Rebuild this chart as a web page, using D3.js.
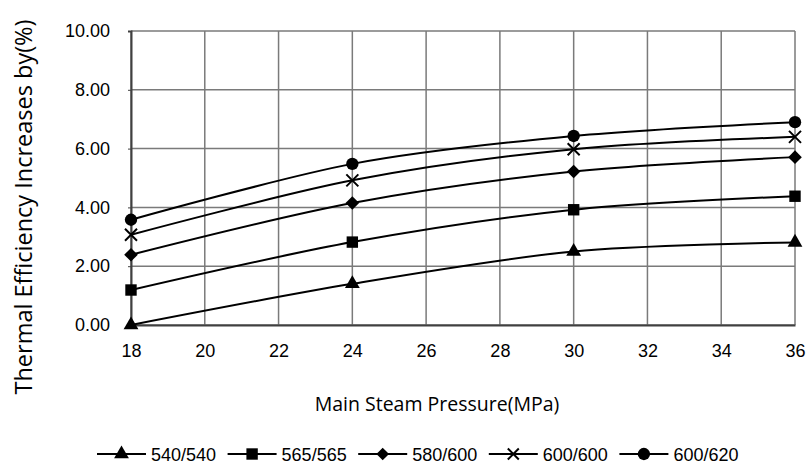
<!DOCTYPE html>
<html>
<head>
<meta charset="utf-8">
<script src="https://cdn.jsdelivr.net/npm/d3@7"></script>
<style>
body{margin:0;background:#fff;}
.tick text{font-family:"Liberation Sans",Arial,sans-serif;font-size:18px;fill:#000;}
.title{font-family:"Open Sans",sans-serif;font-size:19.5px;fill:#000;}
.yTitle{font-size:23.5px;}
.legendText{font-family:"Liberation Sans",Arial,sans-serif;font-size:18px;fill:#000;}
</style>
</head>
<body>
<script>
var pressures = [18,24,30,36];
var seriesNames = ['540/540','565/565','580/600','600/600','600/620'];
var seriesSymbols = ['triangle','square','diamond','cross','circle'];
var v540 = [0.00,1.40,2.50,2.81];
var v565 = [1.19,2.82,3.92,4.38];
var v580 = [2.39,4.15,5.22,5.71];
var v600 = [3.07,4.92,5.98,6.40];
var v620 = [3.58,5.48,6.43,6.90];
var seriesValues = [v540,v565,v580,v600,v620];
var xTicks = [18,20,22,24,26,28,30,32,34,36];
var yTicks = [0,2,4,6,8,10];

var W = 808, H = 468;
var plotLeft = 131, plotRight = 795, plotTop = 31, plotBottom = 325;

var svg = d3.select('body').append('svg').attr('width',W).attr('height',H);

var x = d3.scaleLinear().domain([18,36]).range([plotLeft,plotRight]);
var y = d3.scaleLinear().domain([0,10]).range([plotBottom,plotTop]);

//Grid
var grid = svg.append('g');
grid.selectAll('.hg').data(yTicks).enter().append('line')
	.attr('x1',plotLeft).attr('x2',plotRight)
	.attr('y1',function(d){return y(d);}).attr('y2',function(d){return y(d);})
	.attr('stroke','#7a7a7a').attr('stroke-width',1.5);
grid.selectAll('.vg').data(xTicks).enter().append('line')
	.attr('y1',plotTop).attr('y2',plotBottom)
	.attr('x1',function(d){return x(d);}).attr('x2',function(d){return x(d);})
	.attr('stroke','#7a7a7a').attr('stroke-width',1.5);

//Axes
var yAxis = d3.axisLeft(y).tickValues(yTicks).tickSize(3).tickPadding(18).tickFormat(d3.format('.2f'));
var yAxisG = svg.append('g').attr('transform','translate('+plotLeft+',0)').call(yAxis);
yAxisG.select('.domain').attr('stroke','#404040').attr('stroke-width',2);
yAxisG.selectAll('.tick line').attr('stroke','#404040');

var xAxis = d3.axisBottom(x).tickValues(xTicks).tickSize(0).tickPadding(19);
var xAxisG = svg.append('g').attr('transform','translate(0,'+plotBottom+')').call(xAxis);
xAxisG.select('.domain').attr('stroke','#404040').attr('stroke-width',2);

svg.append('text').classed('title',true).classed('yTitle',true)
	.attr('transform','translate(32,207) rotate(-90)')
	.attr('text-anchor','middle')
	.text('Thermal Efficiency Increases by(%)');
svg.append('text').classed('title',true)
	.attr('x',437).attr('y',411)
	.attr('text-anchor','middle')
	.text('Main Steam Pressure(MPa)');

//Lines
var line = d3.line()
	.x(function(d,i){return x(pressures[i]);})
	.y(function(d){return y(d);})
	.curve(d3.curveCardinal.tension(0.1));

function drawSymbol(g,type,cx,cy,s){
	if (type === 'cross') {
		g.append('path')
			.attr('d','M'+(cx-s)+','+(cy-s)+'L'+(cx+s)+','+(cy+s)+'M'+(cx-s)+','+(cy+s)+'L'+(cx+s)+','+(cy-s))
			.attr('stroke','#000').attr('stroke-width',2).attr('fill','none');
		return;
	}
	if (type === 'diamond') {
		var r = s+0.8;
		g.append('path')
			.attr('d','M'+cx+','+(cy-r)+'L'+(cx+r)+','+cy+'L'+cx+','+(cy+r)+'L'+(cx-r)+','+cy+'Z')
			.attr('fill','#000');
		return;
	}
	var sym = {triangle:d3.symbolTriangle,square:d3.symbolSquare,circle:d3.symbolCircle}[type];
	var size = {triangle:95,square:130,circle:120}[type];
	g.append('path').attr('d',d3.symbol().type(sym).size(size)())
		.attr('transform','translate('+cx+','+cy+')').attr('fill','#000');
}

var series = svg.append('g');
seriesValues.forEach(function(vals,k){
	series.append('path').attr('d',line(vals))
		.attr('fill','none').attr('stroke','#000').attr('stroke-width',2);
	vals.forEach(function(v,i){
		drawSymbol(series,seriesSymbols[k],x(pressures[i]),y(v),6);
	});
});

//Legend
var legend = svg.append('g');
seriesNames.forEach(function(name,k){
	var lx = 97 + k*130.6, ly = 454;
	legend.append('line').attr('x1',lx).attr('x2',lx+49).attr('y1',ly).attr('y2',ly)
		.attr('stroke','#000').attr('stroke-width',2);
	drawSymbol(legend,seriesSymbols[k],lx+24.5,ly,5.5);
	legend.append('text').classed('legendText',true)
		.attr('x',lx+54).attr('y',ly+6.5).text(name);
});
</script>
</body>
</html>
